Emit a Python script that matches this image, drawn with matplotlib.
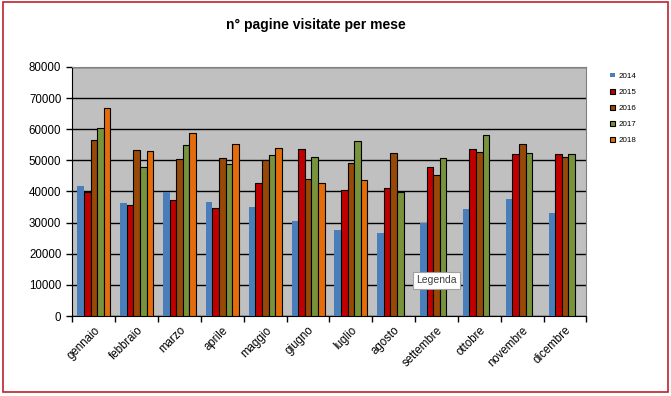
import numpy as np
import matplotlib
matplotlib.use('Agg')
import matplotlib.pyplot as plt
from matplotlib.patches import Rectangle

plt.rcParams['font.family'] = ['Liberation Sans', 'DejaVu Sans']

mesi = ['gennaio', 'febbraio', 'marzo', 'aprile', 'maggio', 'giugno', 'luglio',
        'agosto', 'settembre', 'ottobre', 'novembre', 'dicembre']
anni = ['2014', '2015', '2016', '2017', '2018']

v2014 = [41800, 36300, 39700, 36600, 35000, 30500, 27600, 26700, 29900, 34400, 37600, 33100]
v2015 = [39700, 35600, 37200, 34600, 42600, 53500, 40400, 41100, 47800, 53500, 51900, 51900]
v2016 = [56400, 53200, 50300, 50700, 50000, 43900, 49000, 52300, 45200, 52600, 55200, 51000]
v2017 = [60300, 47800, 54800, 48700, 51600, 51000, 56200, 39700, 50700, 58100, 52300, 51900]
v2018 = [66700, 53000, 58800, 55200, 53900, 42600, 43600, np.nan, np.nan, np.nan, np.nan, np.nan]

serie = [v2014, v2015, v2016, v2017, v2018]
colori = ['#4A7EBB', '#C00000', '#984807', '#77933C', '#E46C0A']

fig = plt.figure(figsize=(6.71, 3.96), dpi=100)
ax = fig.add_axes([0.108, 0.202, 0.766, 0.629])

x = np.arange(len(mesi))
w = 0.154
for i, (vals, col) in enumerate(zip(serie, colori)):
    edge = col if i == 0 else 'black'
    ax.bar(x + (i - 2) * w, vals, w, color=col, edgecolor=edge,
           linewidth=0.0 if i == 0 else 0.8, label=anni[i], zorder=3)

ax.set_facecolor('#C0C0C0')
ax.set_xlim(-0.5, len(mesi) - 0.5)
ax.set_ylim(0, 80000)
ax.set_yticks(np.arange(0, 80001, 10000))
ax.yaxis.grid(True, color='black', linewidth=1, zorder=1)
ax.set_axisbelow(True)
ax.tick_params(axis='y', direction='out', length=4, width=1, labelsize=8.3, pad=4)

ax.set_xticks(np.arange(-0.5, len(mesi)), minor=False)
ax.set_xticklabels([])
ax.set_xticks(x, minor=True)
ax.set_xticklabels(mesi, minor=True, rotation=45, ha='right',
                   rotation_mode='anchor', fontsize=8.3)
ax.tick_params(axis='x', which='major', direction='out', length=4, width=1)
ax.tick_params(axis='x', which='minor', length=0, pad=6)

ax.spines['left'].set_color('black')
ax.spines['bottom'].set_color('black')
ax.spines['top'].set_color('#808080')
ax.spines['right'].set_color('#808080')

fig.text(0.471, 0.938, 'n° pagine visitate per mese', ha='center', va='center',
         fontsize=10, fontweight='bold')

leg = ax.legend(loc='upper left', bbox_to_anchor=(0.905, 0.825),
                bbox_transform=fig.transFigure, frameon=False, fontsize=5.8,
                handlelength=0.55, handleheight=0.55, handletextpad=0.45,
                labelspacing=1.1, borderaxespad=0)

fig.text(0.6505, 0.2917, 'Legenda', ha='center', va='center', fontsize=7.5,
         color='#404040',
         bbox=dict(boxstyle='square,pad=0.3', fc='white', ec='#A0A0A0', lw=0.8))

fig.patches.append(Rectangle((0.005, 0.011), 0.99, 0.983, transform=fig.transFigure,
                             fill=False, edgecolor='#C0202A', linewidth=1.2))

fig.savefig('out.png', dpi=100)
